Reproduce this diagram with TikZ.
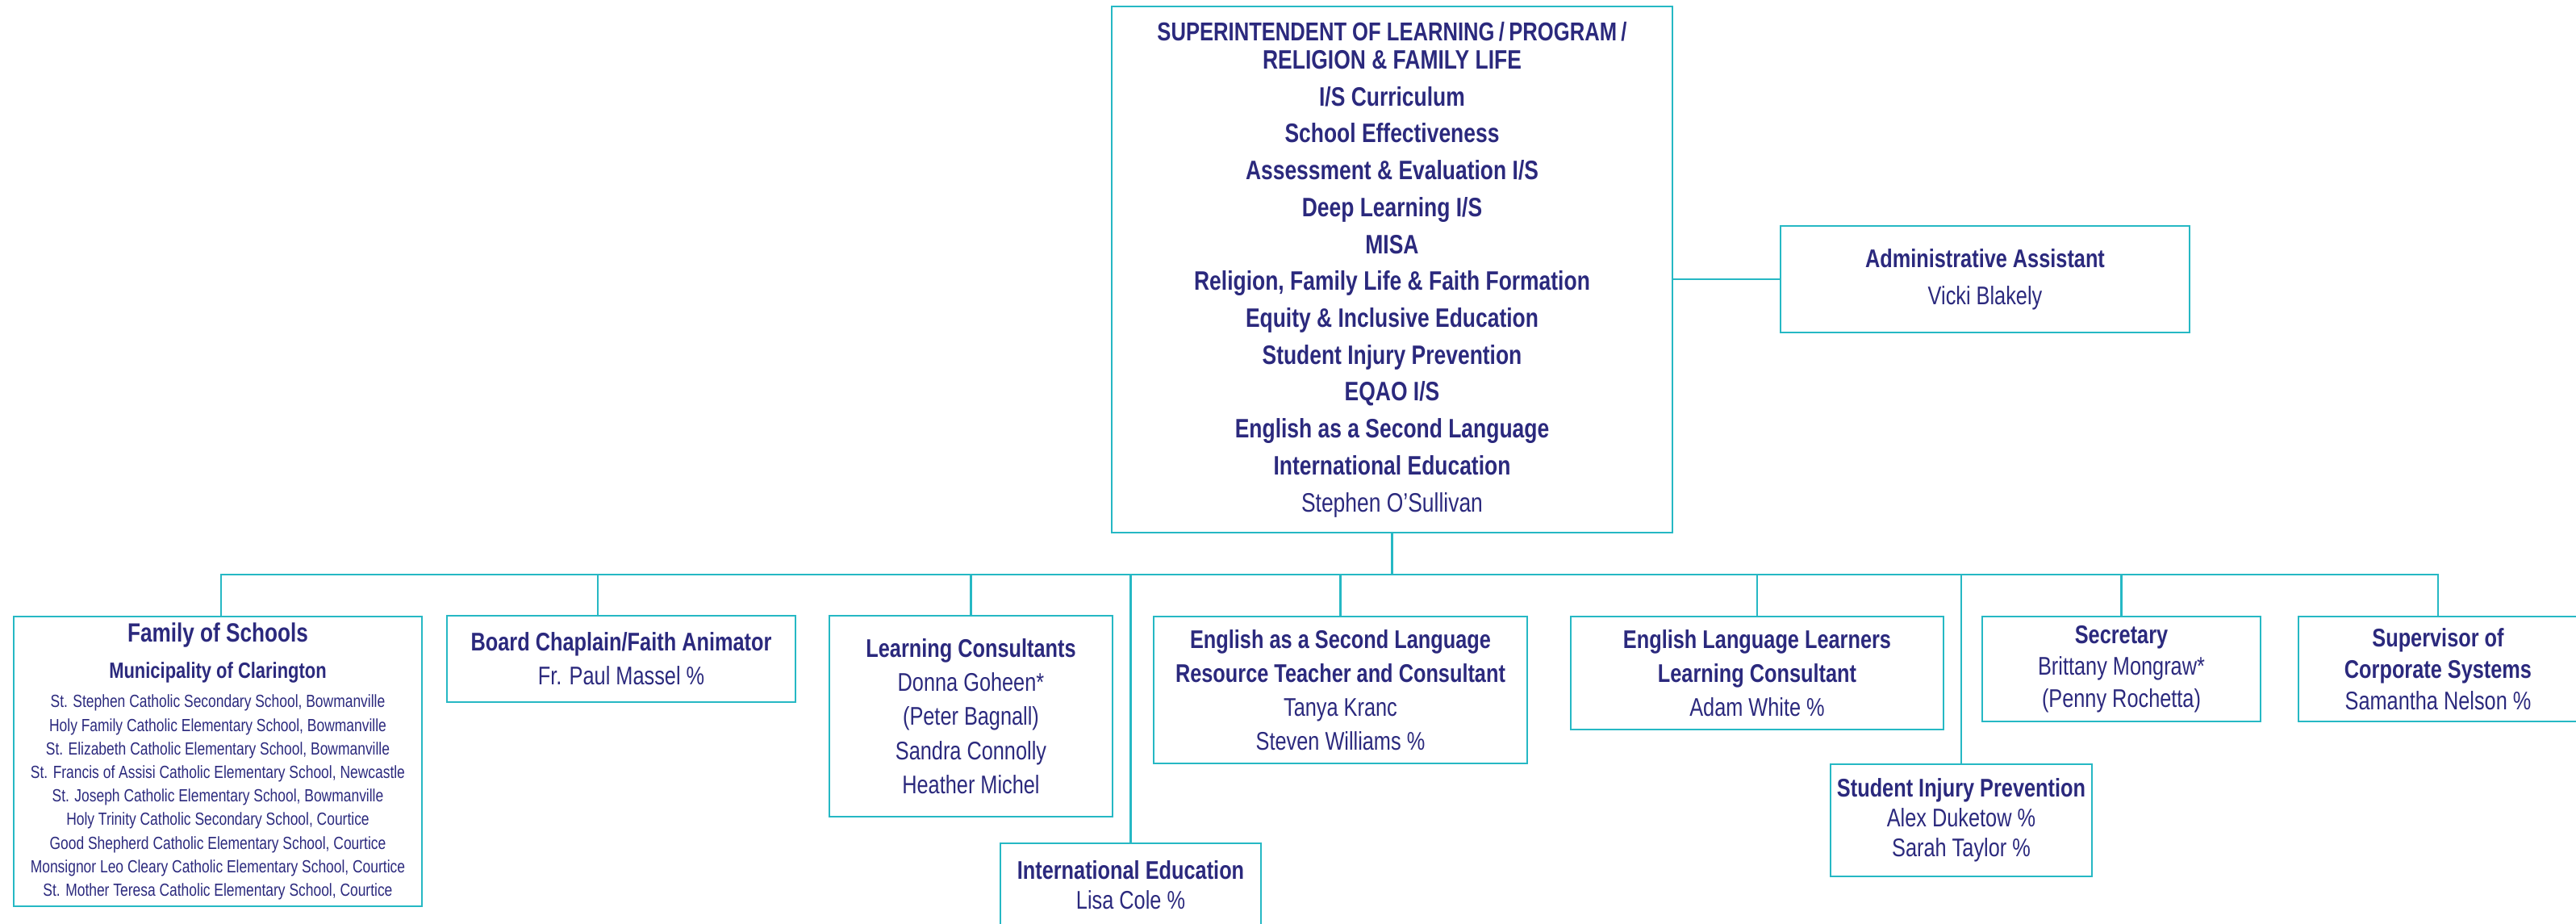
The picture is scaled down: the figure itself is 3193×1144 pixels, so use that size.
\documentclass[tikz,border=0pt]{standalone}
\usepackage{fontspec}
\setmainfont{Liberation Sans}[FakeStretch=0.8]

\definecolor{navy}{RGB}{43,41,125}
\definecolor{orgline}{RGB}{38,184,196}

\tikzset{
	unit/.style={draw=orgline, line width=0.6pt, text=navy, align=center, inner sep=0pt, font=\fontsize{9}{12}\selectfont},
	link/.style={draw=orgline, line width=0.6pt},
}

\begin{document}
\begin{tikzpicture}[x=0.01cm, y=-0.01cm]
	\useasboundingbox (0,0) rectangle (3193,1144);
	\clip (0,0) rectangle (3193,1144);

	\node[unit, minimum width=6.95cm, minimum height=6.52cm, font=\fontsize{9.4}{13}\selectfont] (top) at (1725.5,334)
	{{\fontsize{9.1}{13}\selectfont\bfseries SUPERINTENDENT OF LEARNING\,/\,PROGRAM\,/}\\[-3pt]
	 \textbf{RELIGION \& FAMILY LIFE}\\
	 \textbf{I/S Curriculum}\\
	 \textbf{School Effectiveness}\\
	 \textbf{Assessment \& Evaluation I/S}\\
	 \textbf{Deep Learning I/S}\\
	 \textbf{MISA}\\
	 \textbf{Religion, Family Life \& Faith Formation}\\
	 \textbf{Equity \& Inclusive Education}\\
	 \textbf{Student Injury Prevention}\\
	 \textbf{EQAO I/S}\\
	 \textbf{English as a Second Language}\\
	 \textbf{International Education}\\
	 Stephen O’Sullivan};
	\node[unit, minimum width=5.07cm, minimum height=1.32cm, font=\fontsize{9}{13}\selectfont] (admin) at (2460.5,346)
	{\textbf{Administrative Assistant}\\ Vicki Blakely};
	\coordinate (bus) at (1725.5,712);

	\node[unit, minimum width=5.06cm, minimum height=3.59cm, font=\fontsize{6.2}{8.3}\selectfont] (family) at (270,943.5)
	{{\fontsize{9.3}{11}\selectfont\bfseries Family of Schools}\\[4.5pt]
	 {\fontsize{7.8}{9}\selectfont\bfseries Municipality of Clarington}\\[2pt]
	 St. Stephen Catholic Secondary School, Bowmanville\\
	 Holy Family Catholic Elementary School, Bowmanville\\
	 St. Elizabeth Catholic Elementary School, Bowmanville\\
	 St. Francis of Assisi Catholic Elementary School, Newcastle\\
	 St. Joseph Catholic Elementary School, Bowmanville\\
	 Holy Trinity Catholic Secondary School, Courtice\\
	 Good Shepherd Catholic Elementary School, Courtice\\
	 Monsignor Leo Cleary Catholic Elementary School, Courtice\\
	 St. Mother Teresa Catholic Elementary School, Courtice};
	\node[unit, minimum width=4.32cm, minimum height=1.07cm] (chaplain) at (770,816.5)
	{\textbf{Board Chaplain/Faith Animator}\\ Fr. Paul Massel \%};
	\node[unit, minimum width=3.51cm, minimum height=2.49cm] (lc) at (1203.5,887.5)
	{\textbf{Learning Consultants}\\ Donna Goheen*\\ (Peter Bagnall)\\ Sandra Connolly\\ Heather Michel};
	\node[unit, minimum width=3.23cm, minimum height=1.04cm, font=\fontsize{9}{10.5}\selectfont] (intl) at (1401.5,1097)
	{\textbf{International Education}\\ Lisa Cole \%};
	\node[unit, minimum width=4.63cm, minimum height=1.82cm] (esl) at (1661.5,855)
	{\textbf{English as a Second Language}\\ \textbf{Resource Teacher and Consultant}\\ Tanya Kranc\\ Steven Williams \%};
	\node[unit, minimum width=4.62cm, minimum height=1.40cm] (ell) at (2178,834)
	{\textbf{English Language Learners}\\ \textbf{Learning Consultant}\\ Adam White \%};
	\node[unit, minimum width=3.24cm, minimum height=1.39cm, font=\fontsize{9}{10.5}\selectfont] (sip) at (2431,1016.5)
	{\textbf{Student Injury Prevention}\\ Alex Duketow \%\\ Sarah Taylor \%};
	\node[unit, minimum width=3.45cm, minimum height=1.30cm, font=\fontsize{9}{11.2}\selectfont] (secr) at (2629.5,829)
	{\textbf{Secretary}\\ Brittany Mongraw*\\ (Penny Rochetta)};
	\node[unit, minimum width=3.46cm, minimum height=1.30cm, font=\fontsize{9}{11}\selectfont] (sup) at (3022,829)
	{\textbf{Supervisor of}\\ \textbf{Corporate Systems}\\ Samantha Nelson \%};

	%edges
	\draw[link] (top.south) -- (bus);
	\draw[link] (top.east |- admin.west) -- (admin.west);
	\draw[link] (bus) -| ([xshift=0.04cm]family.north);
	\draw[link] (bus) -| ([xshift=-0.29cm]chaplain.north);
	\foreach \n in {lc,intl,esl,ell,sip,secr,sup}
		\draw[link] (bus) -| (\n.north);
\end{tikzpicture}
\end{document}
